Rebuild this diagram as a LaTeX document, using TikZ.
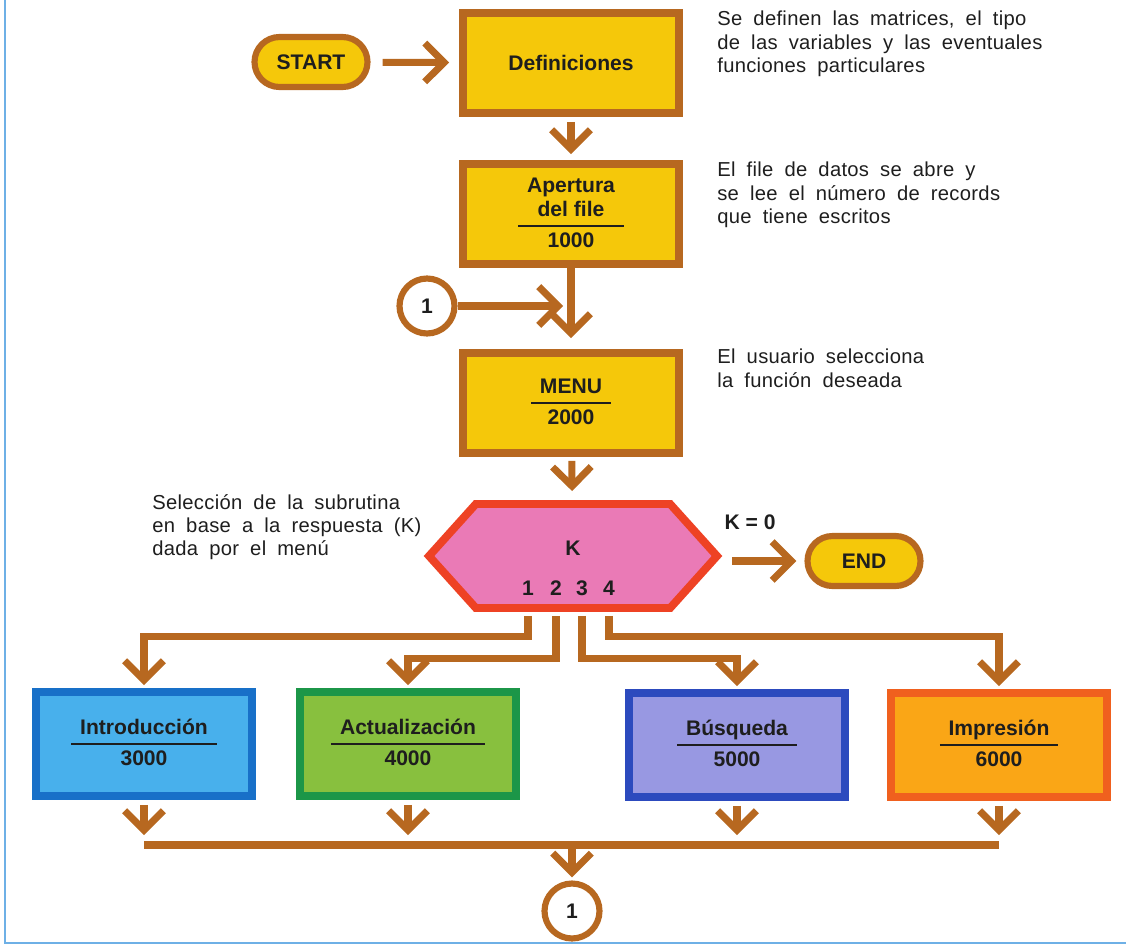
\documentclass[tikz,border=0pt]{standalone}
\usepackage{fontspec}
\setmainfont{Liberation Sans}
\usetikzlibrary{arrows.meta,shapes.symbols}

\definecolor{rust}{RGB}{183,104,32}
\definecolor{ink}{RGB}{30,30,30}
\definecolor{sun}{RGB}{245,200,10}
\definecolor{hexfill}{RGB}{234,122,182}
\definecolor{hexline}{RGB}{238,66,36}
\definecolor{introfill}{RGB}{72,176,236}
\definecolor{introline}{RGB}{24,112,200}
\definecolor{actfill}{RGB}{136,192,62}
\definecolor{actline}{RGB}{28,150,72}
\definecolor{busfill}{RGB}{152,152,226}
\definecolor{busline}{RGB}{44,74,190}
\definecolor{impfill}{RGB}{250,166,22}
\definecolor{impline}{RGB}{240,96,30}
\definecolor{pageline}{RGB}{110,176,230}

\newcommand{\blocktext}[2]{{\renewcommand{\arraystretch}{1.2}\setlength{\tabcolsep}{5pt}\setlength{\arrayrulewidth}{1pt}\begin{tabular}{c}#1\\\hline #2\end{tabular}}}
\newcommand{\notefont}{\fontsize{11.5}{13.2}\selectfont\addfontfeatures{LetterSpace=1.5}\spaceskip=0.55em plus 0.1em\relax}

\begin{document}
\begin{tikzpicture}[x=0.02cm, y=-0.02cm,
    lbl/.style={font=\fontsize{12}{14}\selectfont\bfseries, text=ink, inner sep=0},
    note/.style={font=\notefont, text=ink, align=left, anchor=north west, inner sep=0},
    proc/.style={lbl, line width=4.5pt, minimum width=4.32cm, minimum height=2cm},
    term/.style={lbl, draw=rust, fill=sun, line width=3.5pt, rounded corners=0.5cm, minimum width=2.26cm, minimum height=1cm},
    conn/.style={lbl, circle, draw=rust, fill=white, line width=3.5pt, minimum size=1.1cm},
    choice/.style={lbl, signal, signal to=east and west, signal pointer angle=96, draw=hexline, fill=hexfill, line width=4.5pt, minimum width=5.76cm, minimum height=2.08cm},
    link/.style={draw=rust, line width=4pt, -{Straight Barb[length=11pt,width=22pt]}},
    bar/.style={draw=rust, line width=4pt}]

        \useasboundingbox (0,0) rectangle (1126,947);
        \draw[draw=pageline, line width=1.2pt] (5,0) -- (5,943) -- (1126,943);

        \begin{scope}
                \node[term] (start) at (311,62) {START};
                \node[proc, draw=rust, fill=sun] (def) at (571,63) {Definiciones};
                \node[proc, draw=rust, fill=sun] (open) at (571,214) {\blocktext{Apertura\\[-3pt]del file}{1000}};
                \node[conn] (con1) at (427,306) {1};
                \coordinate (join) at (571,306);
                \node[proc, draw=rust, fill=sun] (menu) at (571,403) {\blocktext{MENU}{2000}};
                \node[choice] (sel) at (573,556) {};
                \node[lbl] (selk) at (573,548) {K};
                \foreach \k/\x in {1/528,2/556,3/582,4/609}
                        \node[lbl] (k\k) at (\x,588) {\k};
                \node[lbl] (kzero) at (750,522) {K = 0};
                \node[term] (end) at (864,561) {END};

                \node[proc, draw=introline, fill=introfill, minimum height=2.08cm] (intro) at (144,744) {\blocktext{Introducción}{3000}};
                \node[proc, draw=actline, fill=actfill, minimum height=2.08cm] (act) at (408,744) {\blocktext{Actualización}{4000}};
                \node[proc, draw=busline, fill=busfill, minimum height=2.08cm] (bus) at (737,745) {\blocktext{Búsqueda}{5000}};
                \node[proc, draw=impline, fill=impfill, minimum height=2.08cm] (imp) at (999,745) {\blocktext{Impresión}{6000}};
                \coordinate (merge) at (572,845);
                \node[conn] (con2) at (572,911) {1};
        \end{scope}

        \node[note] (notedef) at (717,11) {Se definen las matrices, el tipo\\de las variables y las eventuales\\funciones particulares};
        \node[note] (noteopen) at (717,162) {El file de datos se abre y\\se lee el número de records\\que tiene escritos};
        \node[note] (notemenu) at (717,349) {El usuario selecciona\\la función deseada};
        \node[note] (notesel) at (152,494) {Selección de la subrutina\\en base a la respuesta (K)\\dada por el menú};

        \begin{scope}
                \draw[link, shorten <=0.24cm, shorten >=0.2cm] (start) -- (def);
                \draw[link, shorten <=0.1cm, shorten >=0.12cm] (def) -- (open);
                \draw[link, shorten >=0.22cm] (open) -- (menu);
                \draw[link, shorten >=0.16cm] (con1) -- (join);
                \draw[link, shorten <=0.08cm, shorten >=0.18cm] (menu) -- (sel);
                \draw[link, shorten <=0.2cm, shorten >=0.16cm] (sel.east |- end) -- (end);

                \draw[link, shorten <=0.08cm, shorten >=0.06cm] (k1 |- sel.south) -- ++(0,25) -| (intro.north);
                \draw[link, shorten <=0.08cm, shorten >=0.06cm] (k2 |- sel.south) -- ++(0,47) -| (act.north);
                \draw[link, shorten <=0.08cm, shorten >=0.06cm] (k3 |- sel.south) -- ++(0,47) -| (bus.north);
                \draw[link, shorten <=0.08cm, shorten >=0.06cm] (k4 |- sel.south) -- ++(0,25) -| (imp.north);

                \foreach \b in {intro,act,bus,imp}
                        \draw[link, shorten <=0.1cm, shorten >=0.2cm] (\b.south) -- (\b.south |- merge);
                \draw[bar] (intro.south |- merge) -- (imp.south |- merge);
                \draw[link, shorten <=0.06cm, shorten >=0.06cm] (merge) -- (con2);
        \end{scope}
\end{tikzpicture}
\end{document}
